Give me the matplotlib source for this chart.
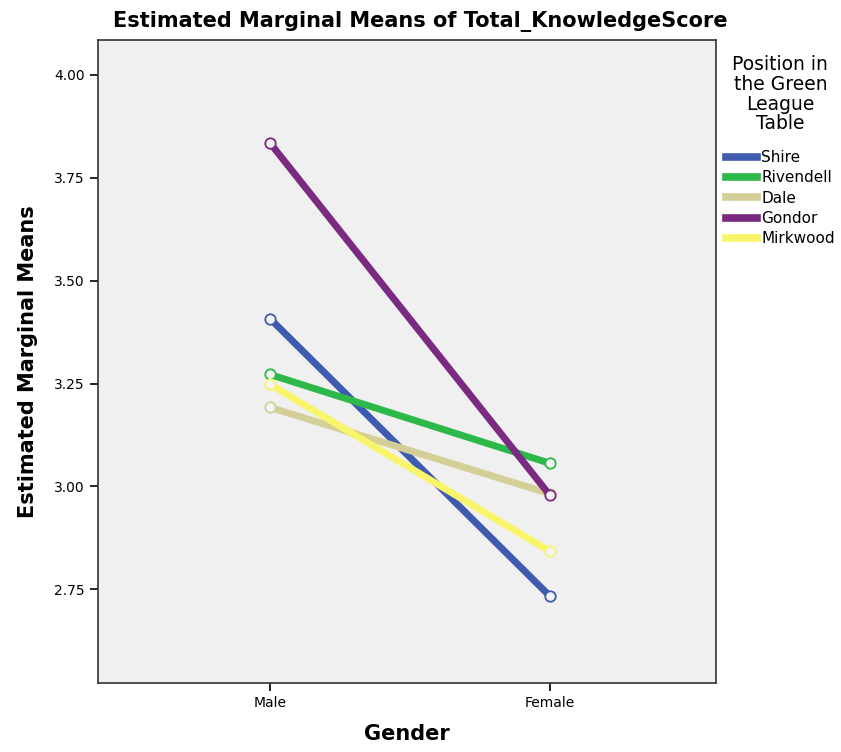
import matplotlib
matplotlib.use("Agg")
import matplotlib.pyplot as plt
from matplotlib.lines import Line2D

genders = ["Male", "Female"]
positions = ["Shire", "Rivendell", "Dale", "Gondor", "Mirkwood"]
shire = [3.408, 2.733]
rivendell = [3.272, 3.056]
dale = [3.192, 2.982]
gondor = [3.835, 2.978]
mirkwood = [3.248, 2.842]
series = [shire, rivendell, dale, gondor, mirkwood]
colors = ["#3f5bb0", "#2db84a", "#d4cf96", "#7a2a80", "#f9f56a"]
yticks = [2.75, 3.00, 3.25, 3.50, 3.75, 4.00]

plt.rcParams['font.family'] = ['DejaVu Sans']
fig = plt.figure(figsize=(8.41, 7.52), dpi=100)
ax = fig.add_axes([98/841, 1 - 683/752, (716-98)/841, (683-40)/752])
ax.set_facecolor("#f0f0f0")

x = list(range(len(genders)))
for name, vals, c in zip(positions, series, colors):
    ax.plot(x, vals, color=c, lw=5.0, solid_capstyle='butt', label=name,
            marker='o', markersize=7.5, markerfacecolor='#f4f4f4',
            markeredgecolor=c, markeredgewidth=1.3)

ax.set_xlim(-0.614, 1.593)
ax.set_ylim(2.522, 4.085)
ax.set_xticks(x)
ax.set_xticklabels(genders, fontsize=10)
ax.set_yticks(yticks)
ax.set_yticklabels([f"{v:.2f}" for v in yticks], fontsize=10)
ax.tick_params(axis='both', direction='out', length=6, width=1.2)
for s in ax.spines.values():
    s.set_linewidth(1.2)
    s.set_color('#333333')

ax.set_xlabel("Gender", fontsize=15, fontweight='bold', labelpad=10)
ax.set_ylabel("Estimated Marginal Means", fontsize=15, fontweight='bold', labelpad=12)
fig.text(0.5, 1 - 22/752, "Estimated Marginal Means of Total_KnowledgeScore",
         ha='center', va='center', fontsize=15, fontweight='bold')

hs = [Line2D([0], [0], color=c, lw=5.5) for c in colors]
leg = fig.legend(hs, positions, loc='upper left', bbox_to_anchor=(726/841, 1 - 55/752),
                 frameon=False, fontsize=11, handlelength=2.0, handletextpad=0.3,
                 labelspacing=0.35, borderaxespad=0, borderpad=0,
                 title="Position in\nthe Green\nLeague\nTable", title_fontsize=13.5)
leg._legend_box.align = "center"
leg._legend_box.sep = 12
leg.get_title().set_multialignment('center')
leg.get_title().set_linespacing(1.05)

fig.savefig("out.png", dpi=100)
